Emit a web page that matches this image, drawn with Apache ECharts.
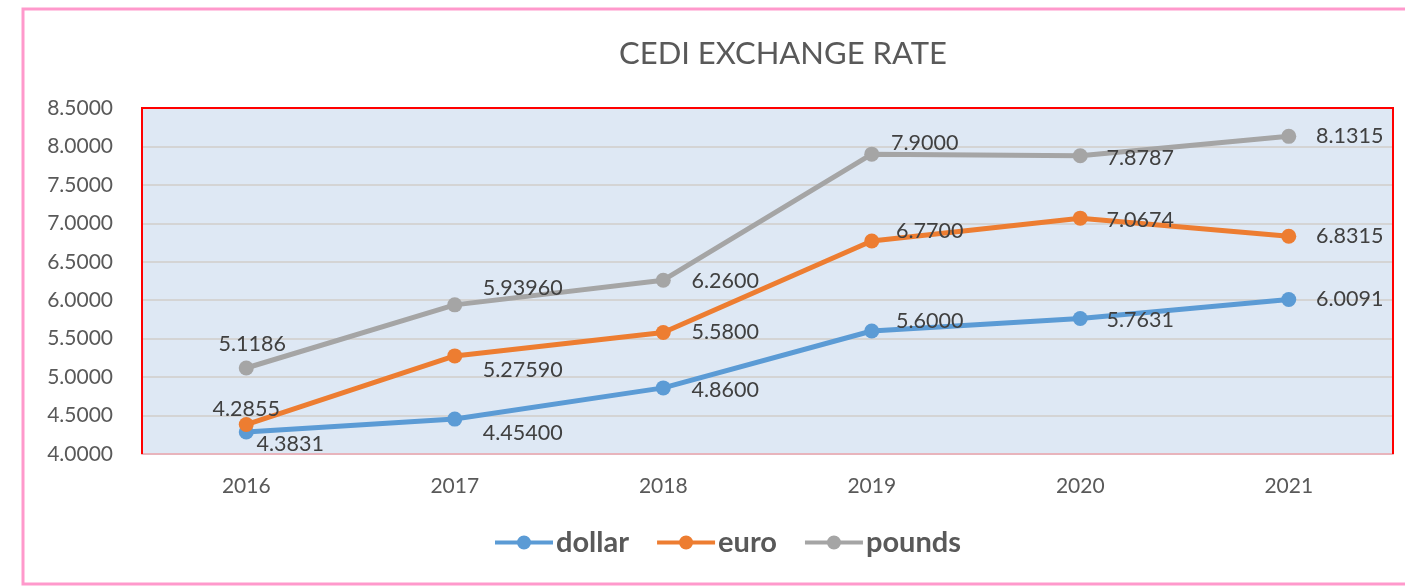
<!DOCTYPE html>
<html>
<head>
<meta charset="utf-8">
<script src="https://cdn.jsdelivr.net/npm/echarts@6/dist/echarts.min.js"></script>
<style>html,body{margin:0;padding:0;background:#fff;}#c{width:1405px;height:588px;}</style>
</head>
<body>
<div id="c"></div>
<script>
const years = ['2016', '2017', '2018', '2019', '2020', '2021'];
const dollar = [4.2855, 4.454, 4.86, 5.6, 5.7631, 6.0091];
const euro = [4.3831, 5.2759, 5.58, 6.77, 7.0674, 6.8315];
const pounds = [5.1186, 5.9396, 6.26, 7.9, 7.8787, 8.1315];
const yTicks = { min: 4, max: 8.5, step: 0.5 };
const labelDecimals = [4, 5, 4, 4, 4, 4];

// label offsets (style only)
const offs = {
  dollar: [[0, -23], [68, 14], [62, 2], [58, -10], [60, 2], [61, 0]],
  euro: [[44, 20], [68, 14], [62, 0], [58, -10], [60, 2], [61, 0]],
  pounds: [[6, -24], [68, -17], [62, 1], [53, -11], [60, 2], [61, 0]]
};
const FONT = 'Lato';
function mk(name, vals, color, off) {
  return {
    name: name, type: 'line', data: vals.map((v, i) => ({
      value: v,
      label: { offset: off[i] }
    })),
    symbol: 'circle', symbolSize: 15,
    lineStyle: { width: 5, color: color },
    itemStyle: { color: color },
    label: {
      show: true, position: 'inside', align: 'center', verticalAlign: 'middle',
      color: '#404040', fontSize: 21.5, fontFamily: FONT,
      formatter: p => p.value.toFixed(labelDecimals[p.dataIndex])
    },
    emphasis: { disabled: true },
    animation: false
  };
}
const icon = 'path://M0,5H58V9H0Z M22,7a7,7 0 1,1 14,0a7,7 0 1,1 -14,0Z';
const chart = echarts.init(document.getElementById('c'));
const GL = 142, GR = 1393, GT = 108, GB = 454;
chart.setOption({
  animation: false,
  textStyle: { fontFamily: FONT },
  title: {
    text: 'CEDI EXCHANGE RATE', left: 778, top: 33, textAlign: 'center',
    textStyle: { fontSize: 31, fontWeight: 'normal', color: '#595959', fontFamily: FONT }
  },
  graphic: [{
    type: 'rect', shape: { x: 23, y: 9, width: 1420, height: 575 },
    style: { fill: null, stroke: '#FF99CC', lineWidth: 3 }, silent: true, z: -1
  }, {
    type: 'polyline', shape: { points: [[GL, GB], [GL, GT], [GR, GT], [GR, GB]] },
    style: { fill: null, stroke: '#FF0000', lineWidth: 2 }, silent: true, z: 1
  }],
  legend: {
    bottom: 26, left: 490, itemWidth: 58, itemHeight: 14, itemGap: 28,
    icon: icon,
    textStyle: { fontSize: 29, fontWeight: 'bold', color: '#595959', fontFamily: FONT, padding: [0, 0, 0, -2] },
    data: ['dollar', 'euro', 'pounds']
  },
  grid: {
    left: GL, right: 1405 - GR, top: GT, bottom: 588 - GB, show: true,
    backgroundColor: '#DEE8F4', borderColor: '#FF0000', borderWidth: 0
  },
  xAxis: {
    type: 'category', data: years, boundaryGap: true,
    axisLine: { lineStyle: { color: '#E8B4BC', width: 2 } },
    axisTick: { show: false },
    axisLabel: { color: '#595959', fontSize: 21, margin: 22, fontFamily: FONT }
  },
  yAxis: {
    type: 'value', min: yTicks.min, max: yTicks.max, interval: yTicks.step,
    axisLine: { show: false }, axisTick: { show: false },
    splitLine: { lineStyle: { color: '#D4D4D4', width: 2 } },
    axisLabel: { color: '#595959', fontSize: 21, margin: 29, fontFamily: FONT, formatter: v => v.toFixed(4) }
  },
  series: [
    mk('dollar', dollar, '#5B9BD5', offs.dollar),
    mk('euro', euro, '#ED7D31', offs.euro),
    mk('pounds', pounds, '#A5A5A5', offs.pounds)
  ]
});
</script>
</body>
</html>
